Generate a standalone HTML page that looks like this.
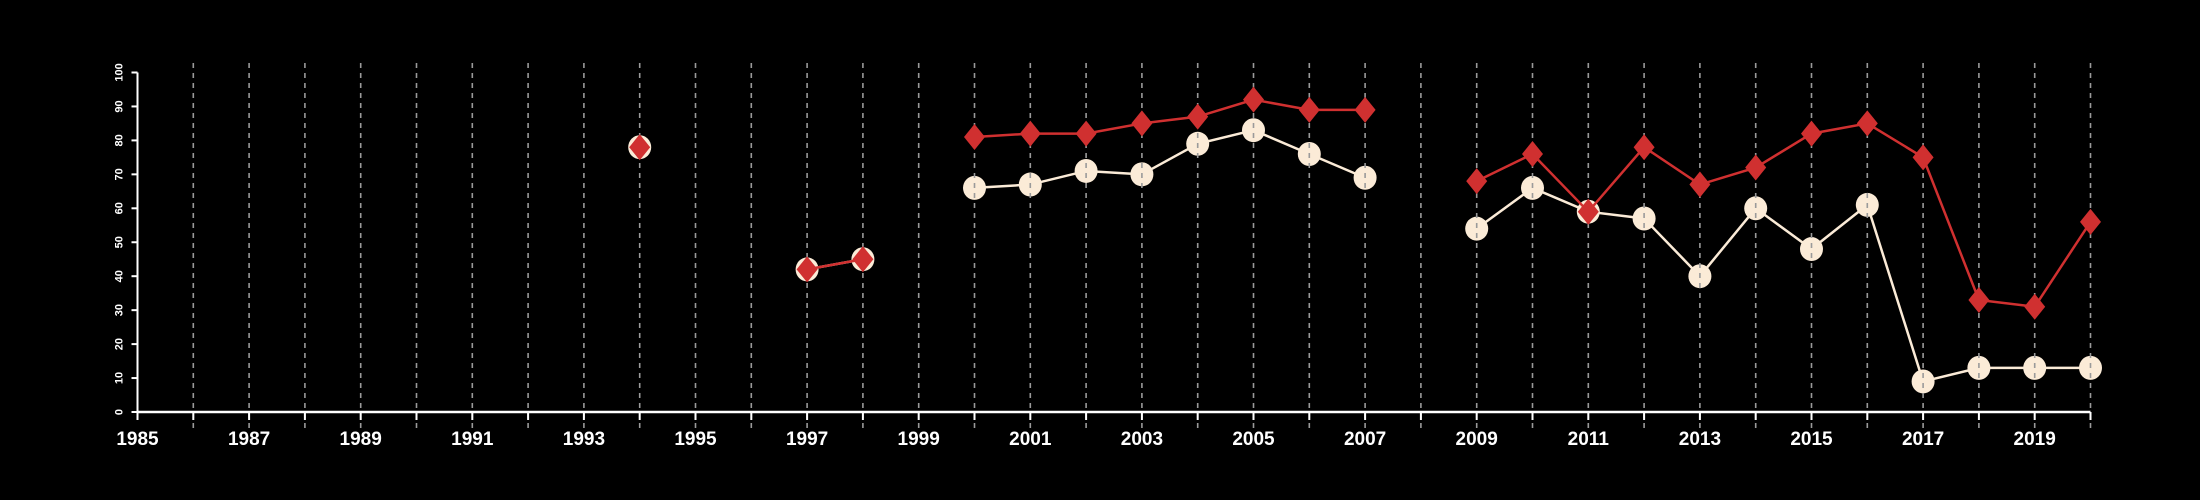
<!DOCTYPE html>
<html><head><meta charset="utf-8"><style>
html,body{margin:0;padding:0;background:#000;}
svg{display:block;}
text{font-family:"Liberation Sans",sans-serif;fill:#fff;}
</style></head><body>
<svg id="chart" width="2200" height="500" viewBox="0 0 2200 500" xmlns="http://www.w3.org/2000/svg">
<rect width="2200" height="500" fill="#000"/>
<g id="g-white"></g>
<g id="g-grid"></g>
<g id="g-red"></g>
<g id="g-axes"></g>
</svg>
<script>
const years = [1994,1995,1996,1997,1998,1999,2000,2001,2002,2003,2004,2005,2006,2007,2008,2009,2010,2011,2012,2013,2014,2015,2016,2017,2018,2019,2020];
const whiteValues = [78,null,null,42,45,null,66,67,71,70,79,83,76,69,null,54,66,59,57,40,60,48,61,9,13,13,13];
const redValues = [78,null,null,42,45,null,81,82,82,85,87,92,89,89,null,68,76,59,78,67,72,82,85,75,33,31,56];
const yTicks = [0,10,20,30,40,50,60,70,80,90,100];
const xMin = 1985, xMax = 2020;

const NS = "http://www.w3.org/2000/svg";
const X0 = 137.5, X1 = 2090.5, Y0 = 412, Y1 = 72.5;
function xs(v){return X0 + (v - xMin) / (xMax - xMin) * (X1 - X0);}
function ys(v){return Y0 - v / 100 * (Y0 - Y1);}
function mk(tag, attrs, parent){const e=document.createElementNS(NS,tag);for(const k in attrs)e.setAttribute(k,attrs[k]);parent.appendChild(e);return e;}

const gW = document.getElementById('g-white');
const gG = document.getElementById('g-grid');
const gR = document.getElementById('g-red');
const gA = document.getElementById('g-axes');

function segments(vals){
  const segs=[];let cur=[];
  vals.forEach((v,i)=>{if(v==null){if(cur.length)segs.push(cur);cur=[];}else cur.push([xs(years[i]),ys(v)]);});
  if(cur.length)segs.push(cur);return segs;
}
segments(whiteValues).forEach(s=>{if(s.length>1){
  const p=mk('polyline',{points:s.map(q=>q.join(',')).join(' '),fill:'none',stroke:'#fbebd7','stroke-width':2.5},gW);
  
  
}});
whiteValues.forEach((v,i)=>{if(v==null)return;
  const c=mk('ellipse',{cx:xs(years[i]),cy:ys(v),rx:11.5,ry:12,fill:'#fbebd7'},gW);
  
  
});
for(let y=xMin+1;y<=xMax;y++){
  const l=mk('line',{x1:xs(y),x2:xs(y),y1:63,y2:430,stroke:'#9a9a9a','stroke-width':1.6,'stroke-dasharray':'5,5'},gG);
  
  
}
segments(redValues).forEach(s=>{if(s.length>1){
  const p=mk('polyline',{points:s.map(q=>q.join(',')).join(' '),fill:'none',stroke:'#d03030','stroke-width':2.5},gR);
  
  
}});
redValues.forEach((v,i)=>{if(v==null)return;
  const x=xs(years[i]),y=ys(v);
  const d=mk('polygon',{points:`${x},${y-13} ${x+10.5},${y} ${x},${y+13} ${x-10.5},${y}`,fill:'#d03030'},gR);
  
  
});
// axes
const xa=mk('line',{x1:X0,x2:X1,y1:Y0,y2:Y0,stroke:'#fff','stroke-width':2.5},gA);


const ya=mk('line',{x1:X0,x2:X0,y1:Y0,y2:Y1,stroke:'#fff','stroke-width':2},gA);


for(let y=xMin;y<=xMax;y++){
  const t=mk('line',{x1:xs(y),x2:xs(y),y1:Y0,y2:Y0+8,stroke:'#fff','stroke-width':2},gA);
  
  
  if((y-xMin)%2===0){
    const tx=mk('text',{x:xs(y),y:Y0+33,'text-anchor':'middle','font-size':19,'font-weight':'bold'},gA);
    tx.textContent=y;
    
    
  }
}
yTicks.forEach(v=>{
  const t=mk('line',{x1:X0-6,x2:X0,y1:ys(v),y2:ys(v),stroke:'#fff','stroke-width':2},gA);
  
  
  const tx=mk('text',{x:0,y:0,'text-anchor':'middle','font-size':11,'font-weight':'bold',transform:`translate(${X0-15},${ys(v)}) rotate(-90)`},gA);
  tx.textContent=v;
  
  
});
</script>
</body></html>
